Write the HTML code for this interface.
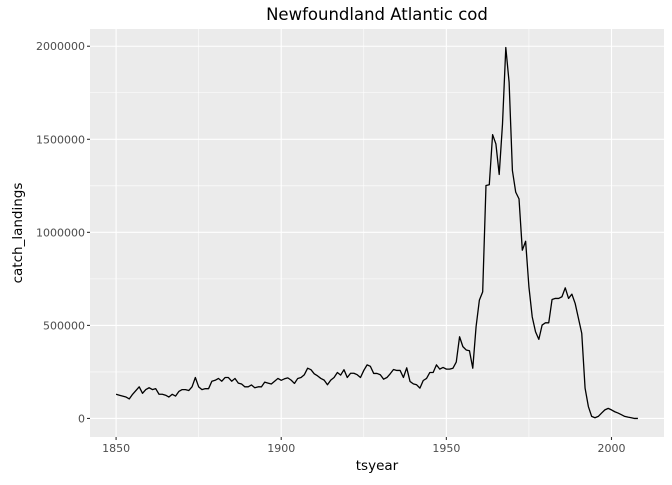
<!DOCTYPE html>
<html><head><meta charset="utf-8"><style>
body{margin:0;background:#fff;}
svg text{font-family:"DejaVu Sans","Liberation Sans",sans-serif;}
</style></head><body>
<svg id="chart" width="672" height="480" xmlns="http://www.w3.org/2000/svg">
<rect width="672" height="480" fill="#fff"/>
<text x="377" y="20" text-anchor="middle" font-size="16.5" fill="#000">Newfoundland Atlantic cod</text>
<g id="panel"></g>
<text x="377" y="470" text-anchor="middle" font-size="13.5" fill="#000">tsyear</text>
<text transform="translate(22,233) rotate(-90)" text-anchor="middle" font-size="13.5" fill="#000">catch_landings</text>
</svg>
<script>
const startYear = 1850;
const catchValues = [130,125,120,115,105,130,150,170,135,155,165,155,160,130,130,125,115,130,120,145,155,155,150,170,220,170,155,160,160,200,205,215,200,220,220,200,215,190,185,170,170,180,165,170,170,195,190,185,200,215,205,
213,218,206,188,215,220,235,270,262,240,229,215,206,181,206,220,247,233,262,220,243,243,235,220,258,288,280,242,242,235,211,220,240,263,258,258,220,272,199,186,181,163,204,215,247,247,288,265,274,265,265,270,303,439,
386,368,364,270,493,636,680,1252,1256,1525,1475,1311,1582,1993,1806,1332,1216,1180,904,952,707,546,466,425,502,514,514,639,645,645,654,702,645,668,618,538,457,163,64,11,4,11,29,46,54,46,36,29,20,11,7,4,0,0];
const xTicks = [1850,1900,1950,2000];
const yTicks = [0,500000,1000000,1500000,2000000];
const yTickLabels = ["0","500000","1000000","1500000","2000000"];

const L=90,R=664,T=29,B=437;
const xMin=1842.1,xMax=2015.9,yMin=-99650,yMax=2092650;
const X=v=>L+(v-xMin)/(xMax-xMin)*(R-L);
const Y=v=>B-(v-yMin)/(yMax-yMin)*(B-T);
const NS="http://www.w3.org/2000/svg";
const svg=document.getElementById('chart');
const panel=document.getElementById('panel');
function mk(tag,attrs,parent){const e=document.createElementNS(NS,tag);for(const k in attrs)e.setAttribute(k,attrs[k]);(parent||panel).appendChild(e);return e;}
const bg=mk('rect',{x:L,y:T,width:R-L,height:B-T,fill:'#ebebeb'});


for(let i=0;i<xTicks.length-1;i++){const m=(xTicks[i]+xTicks[i+1])/2;const g=mk('line',{x1:X(m),x2:X(m),y1:T,y2:B,stroke:'#fff','stroke-width':0.55});

}
for(let i=0;i<yTicks.length-1;i++){const m=(yTicks[i]+yTicks[i+1])/2;const g=mk('line',{x1:L,x2:R,y1:Y(m),y2:Y(m),stroke:'#fff','stroke-width':0.55});

}
xTicks.forEach(t=>{const g=mk('line',{x1:X(t),x2:X(t),y1:T,y2:B,stroke:'#fff','stroke-width':1.1});


const tk=mk('line',{x1:X(t),x2:X(t),y1:B,y2:B+3,stroke:'#333','stroke-width':1.1},svg);


const tx=mk('text',{x:X(t),y:B+15,'text-anchor':'middle','font-size':11,fill:'#4d4d4d'},svg);


tx.textContent=t;});
yTicks.forEach((t,i)=>{const g=mk('line',{x1:L,x2:R,y1:Y(t),y2:Y(t),stroke:'#fff','stroke-width':1.1});


const tk=mk('line',{x1:L-3,x2:L,y1:Y(t),y2:Y(t),stroke:'#333','stroke-width':1.1},svg);


const tx=mk('text',{x:L-5,y:Y(t)+4,'text-anchor':'end','font-size':11,fill:'#4d4d4d'},svg);


tx.textContent=yTickLabels[i];});
const pts=catchValues.map((v,i)=>X(startYear+i).toFixed(2)+','+Y(v*1000).toFixed(2)).join(' ');
const line=mk('polyline',{points:pts,fill:'none',stroke:'#000','stroke-width':1.3,'stroke-linejoin':'round'});


</script>
</body></html>
